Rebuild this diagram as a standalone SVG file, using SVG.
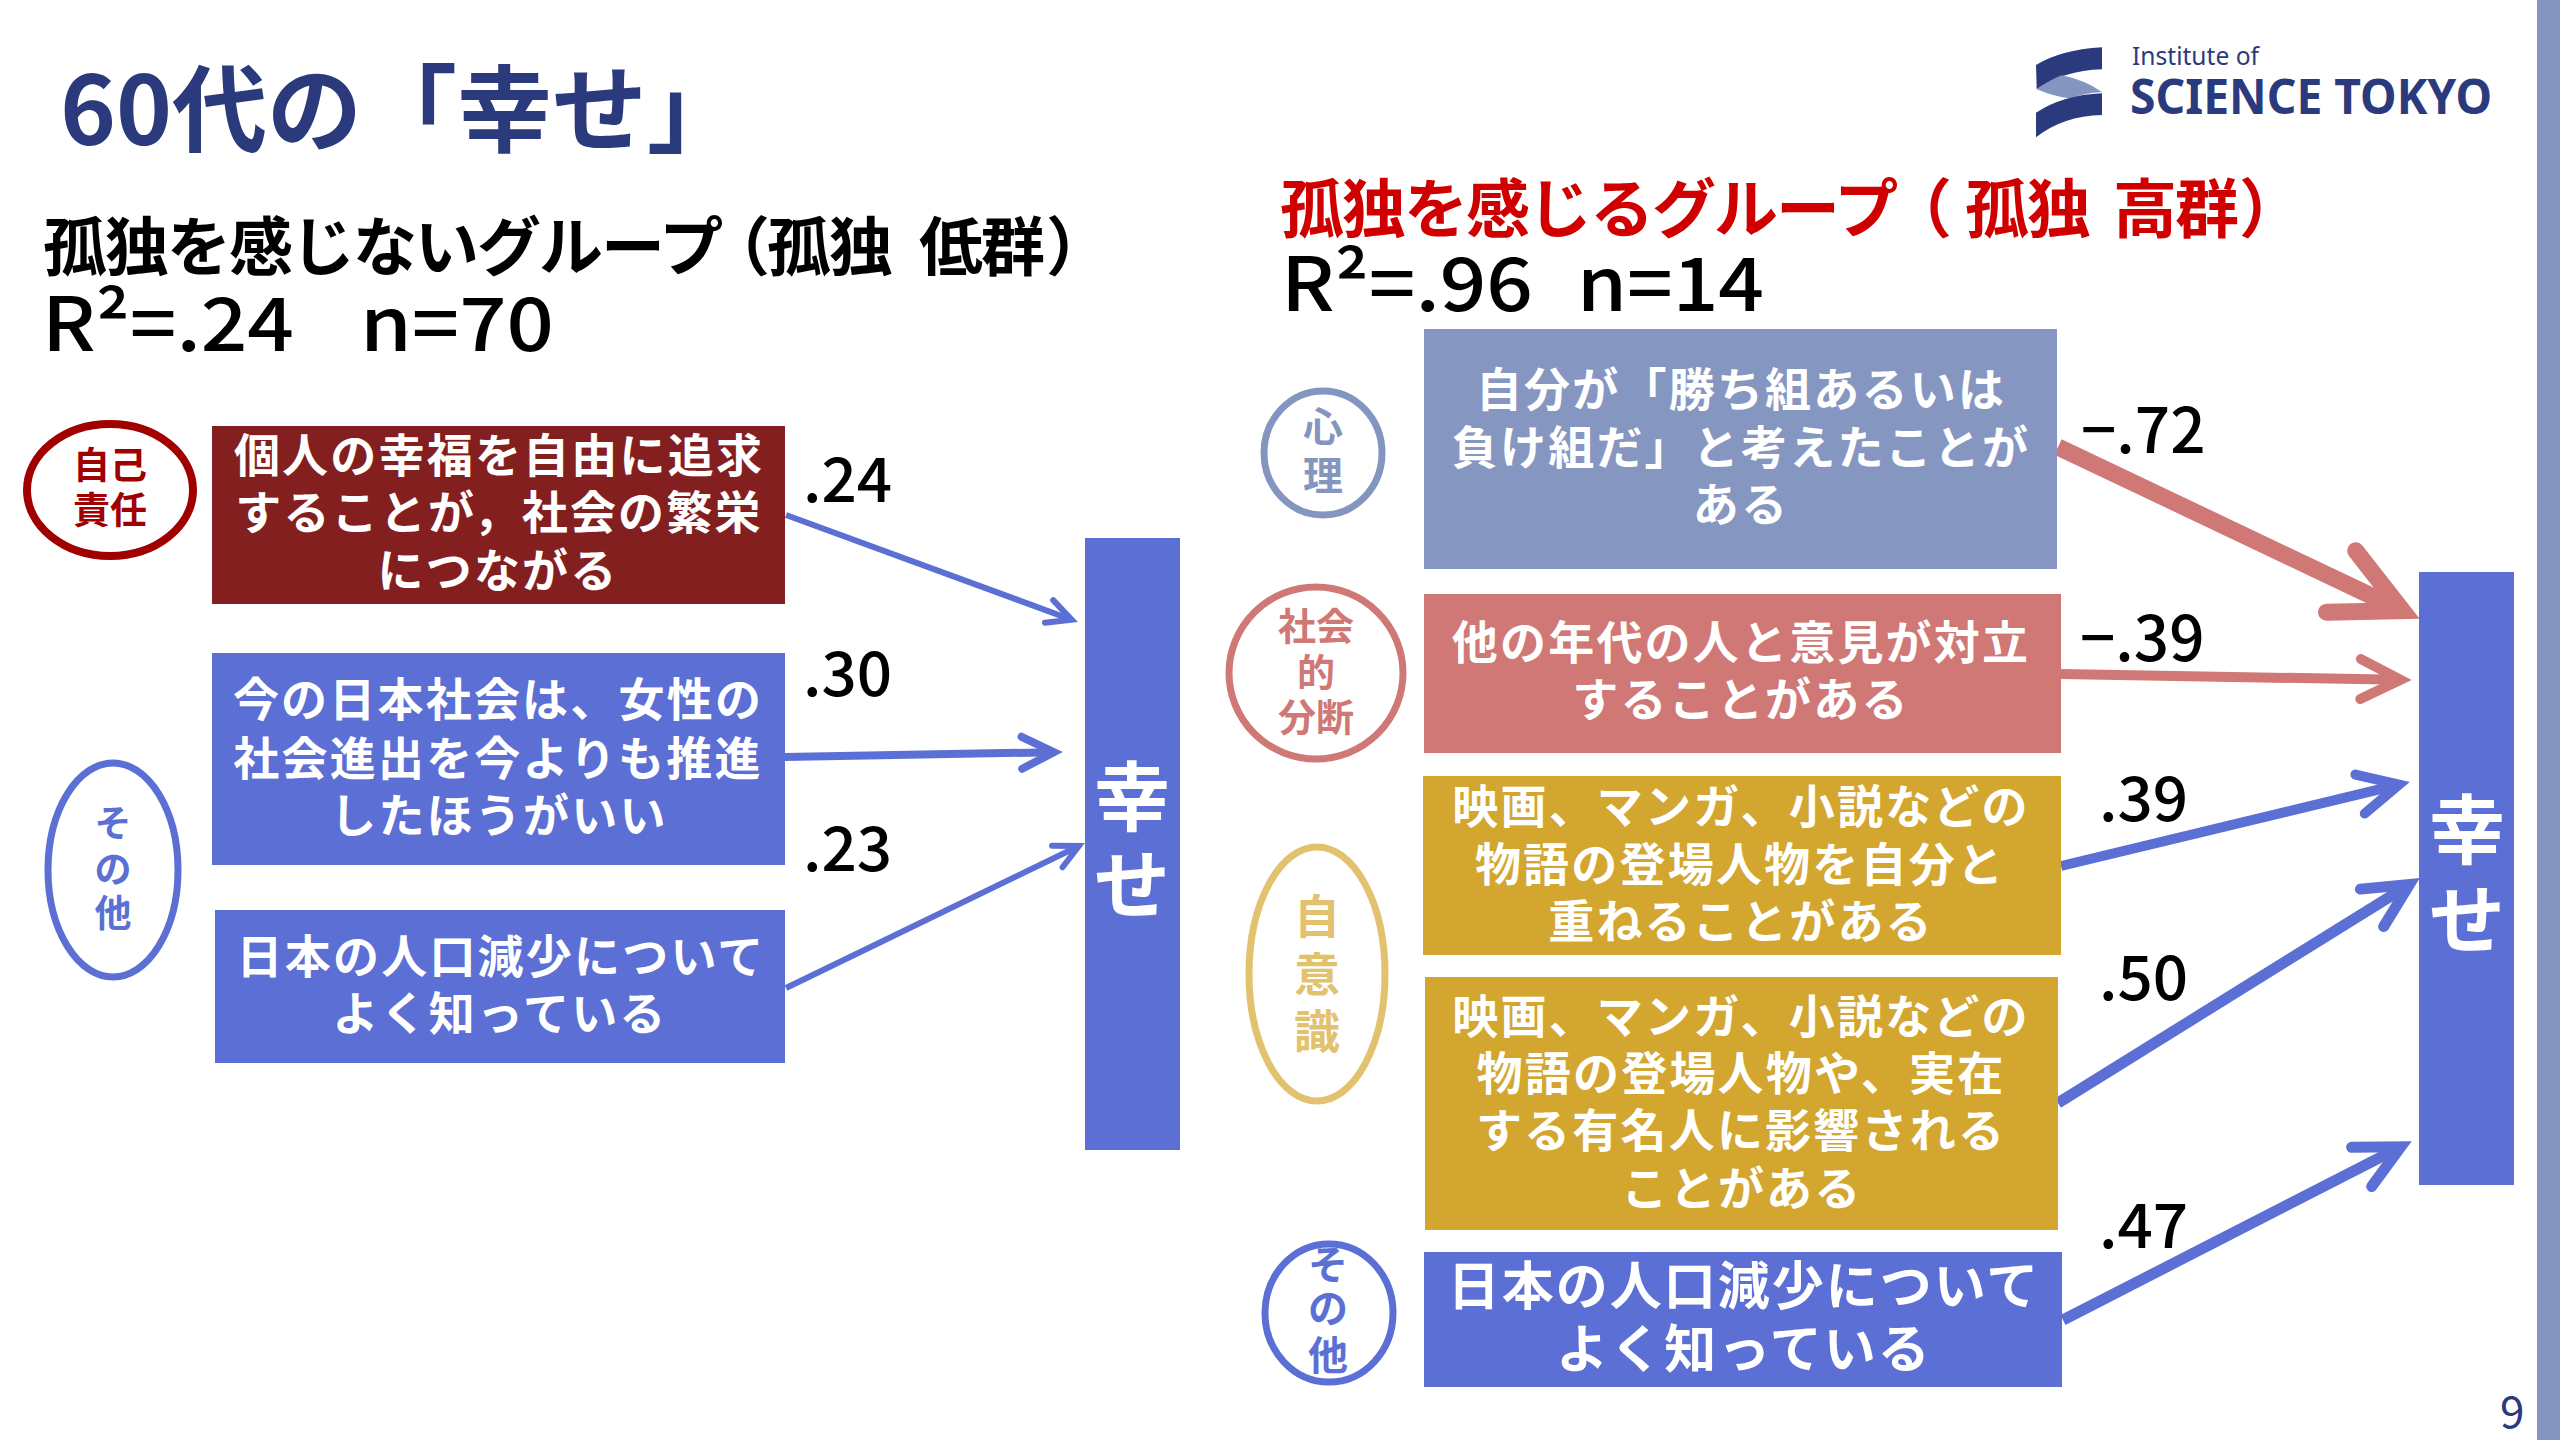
<svg xmlns="http://www.w3.org/2000/svg" width="2560" height="1440" viewBox="0 0 2560 1440">
<defs>
<style>
text{font-family:"Noto Sans CJK JP","Noto Sans",sans-serif;font-weight:500}
.box{font-size:46px;fill:#fff;text-anchor:middle;letter-spacing:2.2px;font-weight:700}
.big{font-size:52px;letter-spacing:2px}
.coef{font-size:62px;fill:#000}
.hd{font-size:64px;fill:#000;letter-spacing:-2px;font-weight:700}
.st{font-size:74px;fill:#000}
.hap{font-size:76px;fill:#fff;text-anchor:middle;font-weight:700}
.cat{text-anchor:middle;font-weight:700}
.ln{fill:none;stroke-linecap:butt}
.b{stroke:#5b6fd4}.p{stroke:#cf7876}
.ell{fill:#fff;stroke-width:7}
</style>
<marker id="ab" viewBox="-6 -4 8 8" refX="0" refY="0" markerWidth="8" markerHeight="8" markerUnits="strokeWidth" orient="auto" overflow="visible"><path d="M-4,-2 L0,0 L-4,2" fill="none" stroke="#5b6fd4" stroke-width="1" stroke-linecap="round" stroke-linejoin="miter"/></marker>
<marker id="ap" viewBox="-6 -4 8 8" refX="0" refY="0" markerWidth="8" markerHeight="8" markerUnits="strokeWidth" orient="auto" overflow="visible"><path d="M-4,-2 L0,0 L-4,2" fill="none" stroke="#cf7876" stroke-width="1" stroke-linecap="round" stroke-linejoin="miter"/></marker>
</defs>
<rect width="2560" height="1440" fill="#fff"/>
<rect x="2537" y="0" width="23" height="1440" fill="#8496c0"/>
<text x="60" y="145" fill="#2b3a7c" style="font-size:95px;font-weight:700">60代の「幸せ」</text>
<g id="logo">
<path d="M2036,65 Q2060,50 2102,47.3 L2102,69.3 Q2063,70.7 2036.7,89.3 Z" fill="#2b3a7c"/>
<path d="M2036.7,89.3 Q2050,80 2061.7,75.3 Q2085,80 2102,92 Q2085,93 2070,98.3 Q2055,97 2036.7,89.3 Z" fill="#8496c0"/>
<path d="M2036,112.7 Q2063,95 2102,93.3 L2102,115 Q2063,116 2036,137.3 Z" fill="#2b3a7c"/>
<text x="2132" y="65" style="font-size:26px;font-family:'Noto Sans',sans-serif;font-weight:400" fill="#2b3a7c" textLength="127" lengthAdjust="spacingAndGlyphs">Institute of</text>
<text x="2130" y="114" style="font-size:48px;font-family:'Noto Sans',sans-serif;font-weight:700" fill="#2b3a7c" textLength="362" lengthAdjust="spacingAndGlyphs">SCIENCE TOKYO</text>
</g>
<text class="hd" y="270"><tspan x="43">孤独を感じないグループ</tspan><tspan x="706">（</tspan><tspan x="767">孤独</tspan><tspan x="919">低群</tspan><tspan x="1046">）</tspan></text>
<text class="st" x="42" y="351" textLength="252" lengthAdjust="spacingAndGlyphs">R²=.24</text>
<text class="st" x="360" y="351" textLength="194" lengthAdjust="spacingAndGlyphs">n=70</text>
<text class="hd" y="232" style="fill:#d00000"><tspan x="1280">孤独を感じるグループ</tspan><tspan x="1888">（</tspan><tspan x="1965">孤独</tspan><tspan x="2113">高群</tspan><tspan x="2239">）</tspan></text>
<text class="st" x="1281" y="311" textLength="252" lengthAdjust="spacingAndGlyphs">R²=.96</text>
<text class="st" x="1577" y="311" textLength="187" lengthAdjust="spacingAndGlyphs">n=14</text>

<g id="connectors">
<line class="ln b" x1="786" y1="515" x2="1071.6" y2="619.7" stroke-width="6" marker-end="url(#ab)"/>
<line class="ln b" x1="785" y1="757" x2="1053.9" y2="752.2" stroke-width="8" marker-end="url(#ab)"/>
<line class="ln b" x1="786" y1="988" x2="1078.9" y2="846" stroke-width="6" marker-end="url(#ab)"/>
<line class="ln p" x1="2058" y1="447" x2="2402.5" y2="610.7" stroke-width="17" marker-end="url(#ap)"/>
<line class="ln p" x1="2061" y1="674" x2="2400.6" y2="679.8" stroke-width="10" marker-end="url(#ap)"/>
<line class="ln b" x1="2061" y1="866" x2="2399" y2="784.7" stroke-width="10" marker-end="url(#ab)"/>
<line class="ln b" x1="2058" y1="1103" x2="2409.4" y2="884.6" stroke-width="11" marker-end="url(#ab)"/>
<line class="ln b" x1="2063" y1="1320" x2="2400.8" y2="1146.8" stroke-width="11" marker-end="url(#ab)"/>
</g>

<g id="cat-jiko"><ellipse class="ell" cx="110" cy="490" rx="83" ry="66" stroke="#a00000" style="stroke-width:8"/><text class="cat" x="110" y="479" fill="#a00000" font-size="37">自己</text><text class="cat" x="110" y="524" fill="#a00000" font-size="37">責任</text></g>
<g id="cat-other-l"><ellipse class="ell" cx="113" cy="870" rx="65" ry="107" stroke="#5b6fd4"/><text class="cat" x="113" y="837" fill="#5b6fd4" font-size="37">そ</text><text class="cat" x="113" y="883" fill="#5b6fd4" font-size="37">の</text><text class="cat" x="113" y="927" fill="#5b6fd4" font-size="37">他</text></g>
<g id="box-l1"><rect x="212" y="426" width="573" height="178" fill="#841f1f"/><text class="box" x="499" y="472">個人の幸福を自由に追求</text><text class="box" x="499" y="529">することが，社会の繁栄</text><text class="box" x="498" y="587">につながる</text></g>
<g id="box-l2"><rect x="212" y="653" width="573" height="212" fill="#5b6fd4"/><text class="box" x="498" y="716">今の日本社会は、女性の</text><text class="box" x="498" y="775">社会進出を今よりも推進</text><text class="box" x="499" y="832">したほうがいい</text></g>
<g id="box-l3"><rect x="215" y="910" width="570" height="153" fill="#5b6fd4"/><text class="box" x="501" y="973">日本の人口減少について</text><text class="box" x="500" y="1030">よく知っている</text></g>
<g id="out-l"><rect x="1085" y="538" width="95" height="612" fill="#5b6fd4"/><text class="hap" x="1132" y="825">幸</text><text class="hap" x="1132" y="913">せ</text></g>
<g id="coef-l"><text class="coef" x="803" y="502">.24</text><text class="coef" x="803" y="696">.30</text><text class="coef" x="803" y="871">.23</text></g>

<g id="cat-shinri"><ellipse class="ell" cx="1323" cy="453" rx="59" ry="62" stroke="#8496c0"/><text class="cat" x="1323" y="441" fill="#8496c0" font-size="40">心</text><text class="cat" x="1323" y="490" fill="#8496c0" font-size="40">理</text></g>
<g id="cat-shakai"><ellipse class="ell" cx="1316" cy="673" rx="87" ry="86" stroke="#cf7876"/><text class="cat" x="1316" y="640" fill="#cf7876" font-size="38">社会</text><text class="cat" x="1316" y="686" fill="#cf7876" font-size="38">的</text><text class="cat" x="1316" y="731" fill="#cf7876" font-size="38">分断</text></g>
<g id="cat-jiishiki"><ellipse class="ell" cx="1317" cy="974" rx="68" ry="127" stroke="#e3c26f"/><text class="cat" x="1317" y="933" fill="#e3c26f" font-size="46">自</text><text class="cat" x="1317" y="991" fill="#e3c26f" font-size="46">意</text><text class="cat" x="1317" y="1048" fill="#e3c26f" font-size="46">識</text></g>
<g id="cat-other-r"><ellipse class="ell" cx="1329" cy="1313" rx="64" ry="69" stroke="#5b6fd4"/><text class="cat" x="1328" y="1279" fill="#5b6fd4" font-size="40">そ</text><text class="cat" x="1328" y="1323" fill="#5b6fd4" font-size="40">の</text><text class="cat" x="1328" y="1370" fill="#5b6fd4" font-size="40">他</text></g>
<g id="box-r1"><rect x="1424" y="329" width="633" height="240" fill="#8597c1"/><text class="box" x="1741" y="406">自分が「勝ち組あるいは</text><text class="box" x="1741" y="464">負け組だ」と考えたことが</text><text class="box" x="1741" y="521">ある</text></g>
<g id="box-r2"><rect x="1424" y="594" width="637" height="159" fill="#cf7876"/><text class="box" x="1741" y="659">他の年代の人と意見が対立</text><text class="box" x="1741" y="716">することがある</text></g>
<g id="box-r3"><rect x="1423" y="776" width="638" height="179" fill="#d2a62f"/><text class="box" x="1741" y="823">映画、マンガ、小説などの</text><text class="box" x="1740" y="881">物語の登場人物を自分と</text><text class="box" x="1741" y="938">重ねることがある</text></g>
<g id="box-r4"><rect x="1425" y="977" width="633" height="253" fill="#d2a62f"/><text class="box" x="1741" y="1033">映画、マンガ、小説などの</text><text class="box" x="1741" y="1090">物語の登場人物や、実在</text><text class="box" x="1741" y="1147">する有名人に影響される</text><text class="box" x="1742" y="1205">ことがある</text></g>
<g id="box-r5"><rect x="1424" y="1252" width="638" height="135" fill="#5b6fd4"/><text class="box big" x="1744" y="1305">日本の人口減少について</text><text class="box big" x="1744" y="1368">よく知っている</text></g>
<g id="out-r"><rect x="2419" y="572" width="95" height="613" fill="#5b6fd4"/><text class="hap" x="2467" y="858">幸</text><text class="hap" x="2467" y="948">せ</text></g>
<g id="coef-r"><text class="coef" x="2081" y="453">−.72</text><text class="coef" x="2080" y="661">−.39</text><text class="coef" x="2099" y="821">.39</text><text class="coef" x="2099" y="1000">.50</text><text class="coef" x="2099" y="1248">.47</text></g>
<text x="2500" y="1428" style="font-size:44px;font-weight:400" fill="#2b3a7c">9</text>
</svg>
